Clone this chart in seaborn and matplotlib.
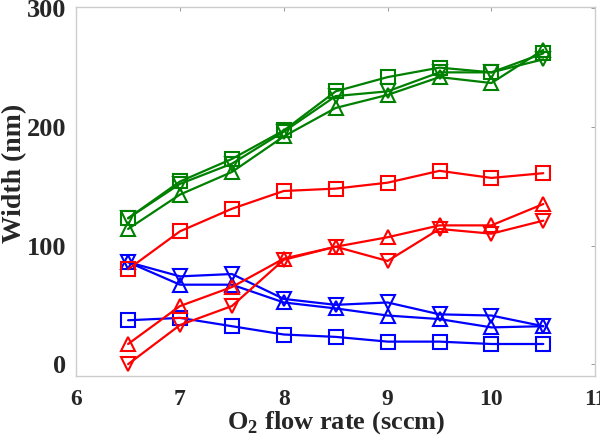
import numpy as np
import pandas as pd
import seaborn as sns
from matplotlib import pyplot as plt

flow = [6.5, 7, 7.5, 8, 8.5, 9, 9.5, 10, 10.5]

green_sq = [123, 154, 173, 197, 230, 242, 250, 246, 262]
green_up = [114, 143, 162, 192, 216, 227, 242, 237, 265]
green_dn = [123, 152, 169, 196, 226, 230, 246, 246, 257]

red_sq = [80, 112, 131, 146, 148, 153, 163, 157, 161]
red_up = [17, 49, 65, 89, 99, 107, 117, 117, 135]
red_dn = [0, 33, 49, 88, 99, 87, 114, 110, 121]

blue_sq = [37, 39, 32, 25, 23, 19, 19, 17, 17]
blue_up = [86, 67, 67, 52, 47, 41, 38, 31, 32]
blue_dn = [86, 74, 76, 55, 50, 52, 42, 41, 32]

series = [
    (blue_sq, 'blue', 's'), (blue_up, 'blue', '^'), (blue_dn, 'blue', 'v'),
    (red_sq, 'red', 's'), (red_up, 'red', '^'), (red_dn, 'red', 'v'),
    (green_sq, 'green', 's'), (green_up, 'green', '^'), (green_dn, 'green', 'v'),
]

sns.set_style('white')
plt.rcParams['font.family'] = ['Liberation Serif', 'DejaVu Serif']
plt.rcParams['mathtext.fontset'] = 'custom'
plt.rcParams['mathtext.rm'] = 'Liberation Serif:bold'
plt.rcParams['mathtext.bf'] = 'Liberation Serif:bold'

fig = plt.figure(figsize=(6, 4.45), dpi=100)
ax = fig.add_axes([0.127, 0.155, 0.865, 0.829])

for vals, col, mk in series:
    df = pd.DataFrame({'flow': flow, 'width': vals})
    sns.lineplot(data=df, x='flow', y='width', ax=ax, color=col, marker=mk,
                 markersize=10, markerfacecolor='none', markeredgecolor=col,
                 markeredgewidth=1.5, linewidth=1.6)

ax.set_xlim(6, 11)
ax.set_ylim(-10, 301)
ax.set_xticks([6, 7, 8, 9, 10, 11])
ax.set_yticks([0, 100, 200, 300])
ax.tick_params(direction='in', length=3, width=0.6, color='#888888',
               top=True, right=True)
ax.tick_params(axis='x', labelsize=17, pad=9)
ax.tick_params(axis='y', labelsize=19, pad=7)
for lab in ax.get_xticklabels() + ax.get_yticklabels():
    lab.set_fontweight('bold')
for sp in ax.spines.values():
    sp.set_color('#cccccc')
    sp.set_linewidth(1.0)

ax.set_xlabel(r'O$_\mathbf{2}$ flow rate (sccm)', fontsize=19, fontweight='bold', labelpad=0)
ax.set_ylabel('Width (nm)', fontsize=20, fontweight='bold')
ax.yaxis.set_label_coords(-0.095, 0.55)

plt.savefig('out.png', dpi=100)
